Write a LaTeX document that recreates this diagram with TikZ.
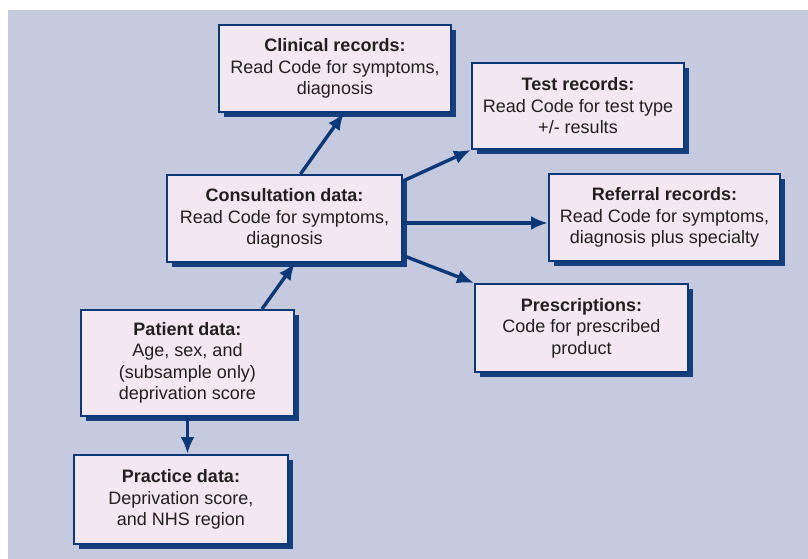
\documentclass[tikz,border=0pt]{standalone}
\usepackage{fontspec}
\setmainfont{Liberation Sans}
\usetikzlibrary{shadows,arrows.meta}

\definecolor{panelbg}{HTML}{C5CADF}
\definecolor{boxfill}{HTML}{F3E7F1}
\definecolor{boxline}{HTML}{0D3878}
\definecolor{boxtext}{HTML}{231F20}

\begin{document}
\begin{tikzpicture}[x=1pt,y=-1pt,
        recbox/.style={draw=boxline,line width=2pt,fill=boxfill,inner sep=0pt,
            align=center,text=boxtext,font=\fontsize{18}{21.5}\selectfont,
            drop shadow={shadow xshift=5pt,shadow yshift=-5pt,fill=boxline,opacity=.95}},
        link/.style={draw=boxline,line width=3.4pt,-{Latex[length=17pt,width=14pt]}}]
            % \draw[help lines] grid(808,559);

            \useasboundingbox (0,0) rectangle (808,559);
            \fill[panelbg] (8,10) rectangle (808,559);

            \node[recbox,minimum width=232pt,minimum height=87pt] (clin) at (335,68.5) {\textbf{Clinical records:}\\Read Code for symptoms,\\diagnosis};
            \node[recbox,minimum width=212pt,minimum height=86pt] (test) at (578,106) {\textbf{Test records:}\\Read Code for test type\\+/- results};
            \node[recbox,minimum width=235pt,minimum height=87pt] (cons) at (284.5,218.5) {\textbf{Consultation data:}\\Read Code for symptoms,\\diagnosis};
            \node[recbox,minimum width=231pt,minimum height=87pt] (ref) at (664.5,217.5) {\textbf{Referral records:}\\Read Code for symptoms,\\diagnosis plus specialty};
            \node[recbox,minimum width=213pt,minimum height=88pt] (presc) at (581.5,328) {\textbf{Prescriptions:}\\Code for prescribed\\product};
            \node[recbox,minimum width=213pt,minimum height=106pt] (pat) at (187.5,363) {\textbf{Patient data:}\\Age, sex, and\\(subsample only)\\deprivation score};
            \node[recbox,minimum width=214pt,minimum height=89pt] (prac) at (181,499.5) {\textbf{Practice data:}\\Deprivation score,\\and NHS region};

            \draw[link] ([xshift=16pt]cons.north) -- ([xshift=9pt]clin.south);
            \draw[link] ([xshift=74.5pt]pat.north) -- ([xshift=10.5pt]cons.south);
            \draw[link] ([yshift=37.5pt]cons.east) -- (test.south west);
            \draw[link] ([yshift=-4.5pt]cons.east) -- ([yshift=-5.5pt]ref.west);
            \draw[link] ([yshift=-37pt]cons.east) -- (presc.north west);
            \draw[link] (pat.south) -- (pat.south |- prac.north);
        \end{tikzpicture}
\end{document}
